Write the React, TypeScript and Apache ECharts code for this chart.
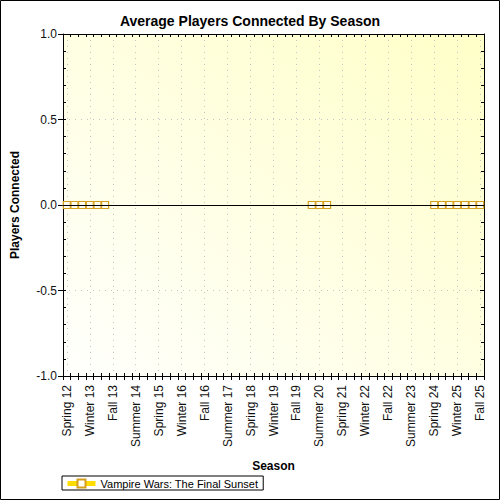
import React, { useEffect, useRef } from 'react';
import * as echarts from 'echarts';

// seasons on the category axis
const seasons = [
	'Spring 12', 'Summer 12', 'Fall 12', 'Winter 13', 'Spring 13', 'Summer 13', 'Fall 13',
	'Winter 14', 'Spring 14', 'Summer 14', 'Fall 14', 'Winter 15', 'Spring 15', 'Summer 15', 'Fall 15',
	'Winter 16', 'Spring 16', 'Summer 16', 'Fall 16', 'Winter 17', 'Spring 17', 'Summer 17', 'Fall 17',
	'Winter 18', 'Spring 18', 'Summer 18', 'Fall 18', 'Winter 19', 'Spring 19', 'Summer 19', 'Fall 19',
	'Winter 20', 'Spring 20', 'Summer 20', 'Fall 20', 'Winter 21', 'Spring 21', 'Summer 21', 'Fall 21',
	'Winter 22', 'Spring 22', 'Summer 22', 'Fall 22', 'Winter 23', 'Spring 23', 'Summer 23', 'Fall 23',
	'Winter 24', 'Spring 24', 'Summer 24', 'Fall 24', 'Winter 25', 'Spring 25', 'Summer 25', 'Fall 25'
];

const seriesName = 'Vampire Wars: The Final Sunset';

// average players per season (null = no data)
const players: (number | null)[] = [
	0, 0, 0, 0, 0, 0,
	null, null, null, null, null, null, null, null, null, null, null, null, null,
	null, null, null, null, null, null, null, null, null, null, null, null, null,
	0, 0, 0,
	null, null, null, null, null, null, null, null, null, null, null, null, null,
	0, 0, 0, 0, 0, 0, 0
];

const yMin = -1;
const yMax = 1;
const yStep = 0.5;

const FONT = 'Liberation Sans, Arial, sans-serif';

const App: React.FC = () => {
	const chartRef = useRef<HTMLDivElement>(null);

	useEffect(() => {
		if (!chartRef.current) return;
		const chart = echarts.init(chartRef.current, undefined, { renderer: 'svg' });

		const gridDots = { color: '#C4C4C4', type: [1, 5] as number[], width: 1 };

		const blankX = {
			type: 'category' as const,
			data: seasons,
			boundaryGap: true,
			axisLabel: { show: false },
			splitLine: { show: false }
		};

		const blankY = {
			type: 'value' as const,
			min: yMin,
			max: yMax,
			interval: yStep,
			axisLabel: { show: false },
			splitLine: { show: false }
		};

		const option: echarts.EChartsOption = {
			animation: false,
			backgroundColor: '#fff',
			textStyle: { fontFamily: FONT },
			title: {
				text: 'Average Players Connected By Season',
				left: 'center',
				top: 9,
				textStyle: { fontSize: 14, fontWeight: 'bold', color: '#000', fontFamily: FONT }
			},
			legend: {
				data: [seriesName],
				left: 62,
				top: 476,
				orient: 'horizontal',
				borderColor: '#000',
				borderWidth: 1,
				borderRadius: 0,
				padding: [2, 5, 1, 3],
				itemWidth: 28,
				itemHeight: 10,
				itemGap: 4,
				lineStyle: { color: '#FFDD00', width: 5 },
				textStyle: { fontSize: 11, color: '#000', fontFamily: FONT }
			},
			grid: {
				left: 63,
				top: 34,
				right: 16,
				bottom: 124,
				show: true,
				borderWidth: 0,
				backgroundColor: new echarts.graphic.LinearGradient(0, 1, 1, 0, [
					{ offset: 0, color: '#FFFFFD' },
					{ offset: 1, color: '#FFFFC8' }
				])
			},
			xAxis: [
				{
					type: 'category',
					data: seasons,
					position: 'bottom',
					boundaryGap: true,
					name: 'Season',
					nameLocation: 'middle',
					nameGap: 84,
					nameTextStyle: { fontSize: 12, fontWeight: 'bold', color: '#000', fontFamily: FONT },
					axisLine: { onZero: false, lineStyle: { color: '#000', width: 1 } },
					axisTick: { show: true, interval: 0, length: 4, lineStyle: { color: '#000' } },
					axisLabel: {
						interval: 2,
						rotate: 90,
						margin: 9,
						fontSize: 12,
						color: '#111',
						fontFamily: FONT
					},
					splitLine: {
						show: true,
						interval: 2,
						alignWithLabel: true,
						lineStyle: gridDots
					} as any
				},
				{
					...blankX,
					position: 'top',
					axisLine: { onZero: false, lineStyle: { color: '#000', width: 1 } },
					axisTick: { show: true, interval: 0, inside: true, length: 3, lineStyle: { color: '#000' } }
				},
				{
					...blankX,
					position: 'bottom',
					axisLine: { show: false, onZero: false },
					axisTick: { show: true, interval: 0, inside: true, length: 3, lineStyle: { color: '#000' } }
				}
			],
			yAxis: [
				{
					type: 'value',
					min: yMin,
					max: yMax,
					interval: yStep,
					position: 'left',
					name: 'Players Connected',
					nameLocation: 'middle',
					nameGap: 42,
					nameTextStyle: { fontSize: 12, fontWeight: 'bold', color: '#000', fontFamily: FONT },
					axisLine: { show: true, onZero: false, lineStyle: { color: '#000', width: 1 } },
					axisTick: { show: true, length: 5, lineStyle: { color: '#000' } },
					axisLabel: {
						margin: 6,
						fontSize: 12,
						color: '#111',
						fontFamily: FONT,
						formatter: (v: number) => v.toFixed(1)
					},
					splitLine: { show: true, lineStyle: gridDots }
				},
				{
					...blankY,
					position: 'left',
					axisLine: { show: false, onZero: false },
					axisTick: { show: true, inside: true, length: 3, lineStyle: { color: '#000' } },
					minorTick: { show: true, splitNumber: 5, length: 3, lineStyle: { color: '#000' } }
				},
				{
					...blankY,
					position: 'right',
					axisLine: { show: true, onZero: false, lineStyle: { color: '#000', width: 1 } },
					axisTick: { show: true, inside: true, length: 4, lineStyle: { color: '#000' } },
					minorTick: { show: true, splitNumber: 5, length: 3, lineStyle: { color: '#000' } }
				}
			],
			graphic: [
				{
					type: 'rect',
					shape: { x: 0.5, y: 0.5, width: 499, height: 499 },
					style: { fill: 'none', stroke: '#000', lineWidth: 1 },
					silent: true,
					z: 100
				}
			],
			series: [
				{
					// zero base line
					type: 'line',
					data: [],
					xAxisIndex: 0,
					yAxisIndex: 0,
					z: 1,
					silent: true,
					markLine: {
						silent: true,
						symbol: 'none',
						label: { show: false },
						lineStyle: { color: '#000', width: 1, type: 'solid' },
						data: [{ yAxis: 0 }]
					}
				},
				{
					name: seriesName,
					type: 'line',
					data: players,
					xAxisIndex: 0,
					yAxisIndex: 0,
					z: 3,
					connectNulls: false,
					symbol: 'rect',
					symbolSize: 7,
					showAllSymbol: true,
					lineStyle: { color: '#EBBE1E', width: 3 },
					itemStyle: { color: '#FFFFF4', borderColor: '#D4A020', borderWidth: 1.2 }
				}
			]
		};

		chart.setOption(option);

		return () => {
			chart.dispose();
		};
	}, []);

	return (
		<div
			ref={chartRef}
			style={{ position: 'fixed', left: 0, top: 0, width: '500px', height: '500px' }}
		/>
	);
};

export default App;
